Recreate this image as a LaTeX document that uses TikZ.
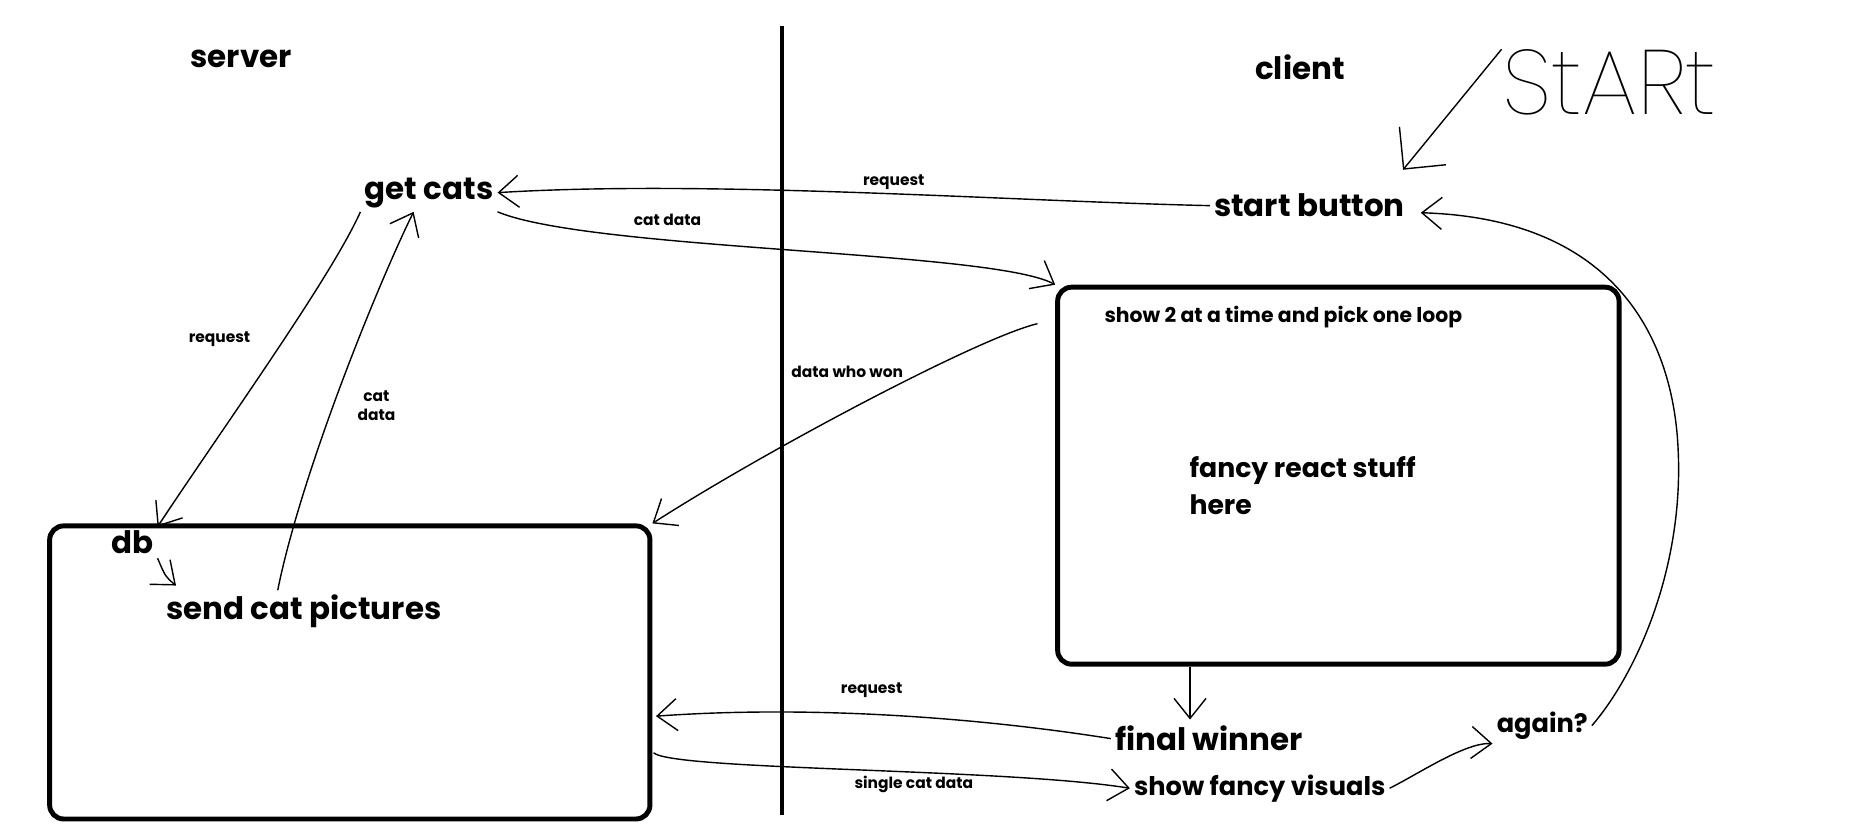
\documentclass[tikz,border=0pt]{standalone}
\usepackage{fontspec}
\setmainfont{Poppins}
\IfFontExistsTF{Poppins Thin}{\newfontfamily\handfont{Poppins Thin}}{\newfontfamily\handfont{DejaVu Sans}}
\usetikzlibrary{arrows.meta,positioning}
\tikzstyle{box} = [draw, rectangle, rounded corners=1.4mm, line width=1.4pt]
\tikzstyle{bigtext} = [font=\fontsize{8.8}{10}\selectfont\bfseries, inner sep=1pt]
\tikzstyle{midtext} = [font=\fontsize{7.3}{10.7}\selectfont\bfseries, inner sep=1pt]
\tikzstyle{smalltext} = [font=\fontsize{5.8}{7}\selectfont\bfseries, inner sep=1pt]
\tikzstyle{tinytext} = [font=\fontsize{4.4}{5.4}\selectfont\bfseries, inner sep=1pt]
\tikzstyle{line->} = [line width=0.4pt, -{Straight Barb[length=2mm,width=3.2mm]}]
\tikzset{
	divider/.style = {line width=1.1pt},
	handtext/.style = {font=\fontsize{26}{28}\selectfont\handfont, inner sep=0pt},
	bigline->/.style = {line width=0.4pt, -{Straight Barb[length=3mm,width=6mm]}}
}

\begin{document}
\begin{tikzpicture}[x=0.11818mm, y=-0.11818mm, >=Straight Barb]
    \useasboundingbox (0,0) rectangle (1568,703);
    % The two sides and the line between them
    \node [bigtext] (server) at (204,50) {server};
    \node [bigtext] (client) at (1100,57) {client};
    \draw [divider] (662,22) -- (662,690);

    % Server side
    \node [bigtext] (getcats) at (363,163) {get cats};
    \node [box, minimum width=60.03mm, minimum height=29.31mm] (dbbox) at (296,569) {};
    \node [bigtext] (db) at (112,459) {db};
    \node [bigtext] (sendcat) at (257,517) {send cat pictures};

    % Client side
    \node [bigtext] (startbtn) at (1108,174) {start button};
    \node [handtext] (starttxt) at (1362,70) {StARt};
    \node [box, minimum width=56.14mm, minimum height=37.70mm] (loop) at (1132.5,402.5) {};
    \node [smalltext] (looptxt) at (1086,268) {show 2 at a time and pick one loop};
    \node [midtext, font=\fontsize{7.6}{10.7}\selectfont\bfseries, align=left, anchor=west] (react) at (1003,411) {fancy react stuff\\here};
    \node [bigtext] (winner) at (1023,625) {final winner};
    \node [midtext] (visuals) at (1066,667) {show fancy visuals};
    \node [midtext] (again) at (1305,614) {again?};

    % Across the line
    \draw [line->] (startbtn.west) .. controls (850,170) and (600,152) .. node [tinytext, above, pos=0.45] {request} (getcats.east);
    \draw [line->] (getcats.south east) .. controls (500,212) and (840,212) .. node [tinytext, above=1mm, pos=0.33] {cat data} (loop.north west);
    \draw [line->] ([shift={(-15,33)}]loop.north west) .. controls (830,285) and (650,380) .. node [tinytext, left=1.6mm, pos=0.37] {data who won} (dbbox.north east);

    % Talking to the db
    \draw [line->] (getcats.south west) .. controls (280,235) and (190,360) .. node [tinytext, left=3mm, pos=0.45] {request} (db.north east);
    \draw [line->] ([shift={(-22,0)}]sendcat.north) .. controls (255,400) and (320,240) .. node [tinytext, right=2mm, align=center, pos=0.45] {cat\\data} ([shift={(-13,0)}]getcats.south);
    \draw [line->] (db.south east) .. controls (140,488) .. ([shift={(12,-4)}]sendcat.north west);

    % End of a round
    \coordinate (wintop) at ([shift={(-16,-2)}]winner.north);
    \draw [line->] (loop.south -| wintop) -- (wintop);
    \draw [line->] (winner.west) .. controls (820,606) and (680,597) .. node [tinytext, above=1.2mm, pos=0.53] {request} ([shift={(3,37)}]dbbox.east);
    \draw [line->] ([shift={(1,68)}]dbbox.east) .. controls (570,652) and (850,650) .. node [tinytext, below, pos=0.6] {single cat data} (visuals.west);
    \draw [line->] (visuals.east) .. controls (1200,655) and (1240,628) .. (again.south west);
    \draw [line->] (again.east) .. controls (1385,570) and (1425,480) .. (1420,380) .. controls (1416,290) and (1370,185) .. ([shift={(10,6)}]startbtn.east);
    \draw [bigline->] (starttxt.north west) -- ([shift={(-5,-17)}]startbtn.north east);
\end{tikzpicture}
\end{document}
